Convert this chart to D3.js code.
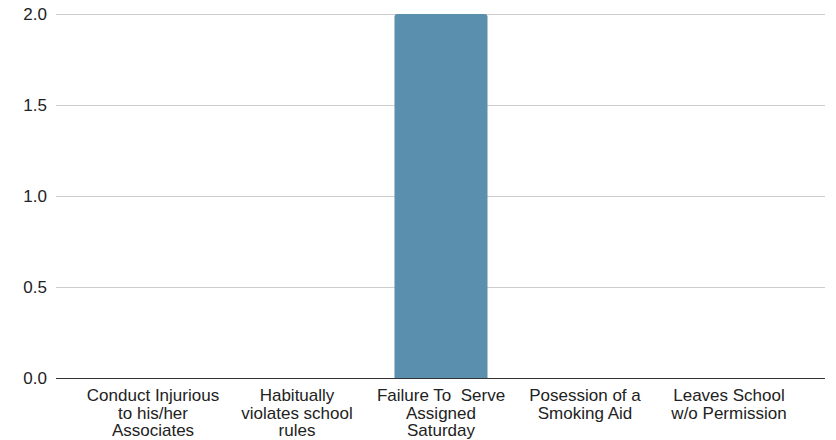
<!DOCTYPE html>
<html>
<head>
<meta charset="utf-8">
<script src="https://cdn.jsdelivr.net/npm/d3@7"></script>
<style>
  html, body { margin: 0; padding: 0; background: #fff; }
  svg { display: block; }
</style>
</head>
<body>
<svg id="chart" width="836" height="440"></svg>
<script>
const categories = [
  "Conduct Injurious\nto his/her\nAssociates",
  "Habitually\nviolates school\nrules",
  "Failure To  Serve\nAssigned\nSaturday",
  "Posession of a\nSmoking Aid",
  "Leaves School\nw/o Permission"
];
const values = [0, 0, 2, 0, 0];
const yTicks = [0, 0.5, 1.0, 1.5, 2.0];

const svg = d3.select("#chart");
const font = "'Liberation Sans', Arial, sans-serif";

const plotLeft = 56, plotRight = 825, plotTop = 14, plotBottom = 378;

const y = d3.scaleLinear().domain([0, 2]).range([plotBottom, plotTop]);
const x = d3.scaleBand().domain(categories).range([81, 801])
  .paddingInner(0.354).paddingOuter(0.177);

// gridlines
svg.append("g").selectAll("line").data(yTicks.filter(d => d !== 0)).join("line")
  .attr("x1", plotLeft).attr("x2", plotRight)
  .attr("y1", d => Math.round(y(d)) + 0.5).attr("y2", d => Math.round(y(d)) + 0.5)
  .attr("stroke", "#cccccc").attr("stroke-width", 1);

// y tick labels
svg.append("g").selectAll("text").data(yTicks).join("text")
  .attr("x", 47).attr("y", d => y(d))
  .attr("dy", "0.35em")
  .attr("text-anchor", "end")
  .attr("font-family", font).attr("font-size", 17)
  .attr("fill", "#222")
  .text(d => d.toFixed(1));

// bars with rounded top corners
const r = 3;
svg.append("g").selectAll("path").data(values.map((v, i) => ({c: categories[i], v})).filter(d => d.v > 0)).join("path")
  .attr("fill", "#5a8fad")
  .attr("d", d => {
    const x0 = x(d.c), x1 = x(d.c) + x.bandwidth();
    const y0 = y(d.v), y1 = y(0);
    return `M${x0},${y1} L${x0},${y0 + r} Q${x0},${y0} ${x0 + r},${y0} L${x1 - r},${y0} Q${x1},${y0} ${x1},${y0 + r} L${x1},${y1} Z`;
  });

// baseline axis
svg.append("line")
  .attr("x1", plotLeft).attr("x2", plotRight)
  .attr("y1", y(0) + 0.5).attr("y2", y(0) + 0.5)
  .attr("stroke", "#333333").attr("stroke-width", 1);

// category labels
const lab = svg.append("g").selectAll("text").data(categories).join("text")
  .attr("x", d => x(d) + x.bandwidth() / 2)
  .attr("y", plotBottom + 23)
  .attr("text-anchor", "middle")
  .attr("font-family", font).attr("font-size", 17)
  .attr("fill", "#222")
  .attr("xml:space", "preserve")
  .style("white-space", "pre");
lab.each(function(d) {
  const t = d3.select(this);
  d.split("\n").forEach((line, i) => {
    t.append("tspan")
      .attr("x", x(d) + x.bandwidth() / 2)
      .attr("dy", i === 0 ? 0 : 17.5)
      .text(line);
  });
});
</script>
</body>
</html>
